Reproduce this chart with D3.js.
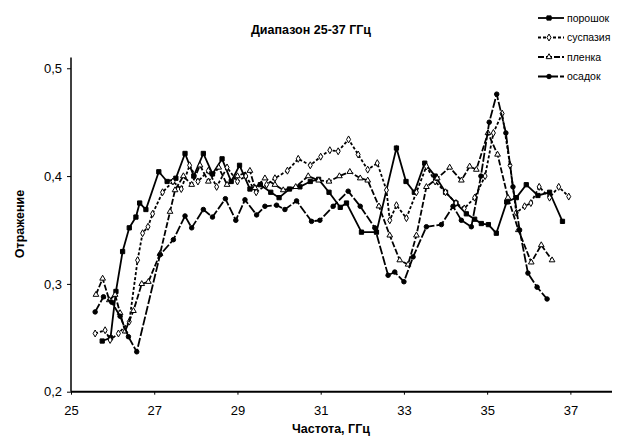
<!DOCTYPE html>
<html>
<head>
<meta charset="utf-8">
<script src="https://cdn.jsdelivr.net/npm/d3@7.9.0/dist/d3.min.js"></script>
<style>
  body { margin: 0; background: #fff; }
  svg { font-family: "Liberation Sans", Arial, sans-serif; }
</style>
</head>
<body>
<svg id="chart" width="622" height="439"></svg>
<script>
// Reflection vs frequency
const seriesNames = ['порошок', 'суспазия', 'пленка', 'осадок'];

const poroshokF = [25.75, 25.95, 26.08, 26.24, 26.40, 26.56, 26.65, 26.80, 27.11, 27.31, 27.52, 27.74, 27.95, 28.18, 28.40, 28.63, 28.85, 29.05, 29.30, 29.55, 29.80, 30.00, 30.25, 30.50, 30.75, 30.95, 31.20, 31.47, 31.62, 31.98, 32.34, 32.82, 33.05, 33.25, 33.50, 33.75, 34.00, 34.25, 34.50, 34.70, 34.86, 35.03, 35.22, 35.47, 35.70, 35.94, 36.22, 36.50, 36.81];
const poroshokV = [0.247, 0.250, 0.293, 0.330, 0.352, 0.362, 0.375, 0.369, 0.404, 0.395, 0.398, 0.421, 0.400, 0.421, 0.402, 0.416, 0.395, 0.410, 0.388, 0.392, 0.385, 0.380, 0.388, 0.390, 0.395, 0.397, 0.385, 0.371, 0.375, 0.348, 0.348, 0.426, 0.395, 0.385, 0.412, 0.400, 0.385, 0.375, 0.365, 0.360, 0.356, 0.355, 0.347, 0.376, 0.380, 0.392, 0.382, 0.385, 0.358];

const suspF = [25.58, 25.82, 25.94, 26.14, 26.40, 26.60, 26.72, 26.85, 26.96, 27.20, 27.45, 27.65, 27.85, 28.05, 28.30, 28.50, 28.75, 29.00, 29.20, 29.45, 29.70, 29.90, 30.20, 30.46, 30.75, 31.00, 31.22, 31.42, 31.67, 31.90, 32.13, 32.36, 32.58, 32.66, 32.82, 33.06, 33.30, 33.54, 33.75, 34.00, 34.25, 34.45, 34.70, 34.95, 35.15, 35.36, 35.55, 35.70, 35.90, 36.05, 36.25, 36.50, 36.72, 36.96];
const suspV = [0.254, 0.257, 0.248, 0.254, 0.265, 0.322, 0.347, 0.353, 0.365, 0.385, 0.395, 0.388, 0.410, 0.395, 0.405, 0.390, 0.408, 0.395, 0.400, 0.385, 0.392, 0.398, 0.405, 0.416, 0.410, 0.418, 0.424, 0.423, 0.434, 0.420, 0.406, 0.412, 0.387, 0.359, 0.373, 0.361, 0.385, 0.409, 0.395, 0.385, 0.375, 0.370, 0.380, 0.400, 0.440, 0.458, 0.410, 0.366, 0.372, 0.375, 0.390, 0.380, 0.390, 0.381];

const plenkaF = [25.60, 25.76, 25.92, 26.06, 26.18, 26.30, 26.50, 26.70, 26.86, 27.14, 27.38, 27.50, 27.70, 27.90, 28.10, 28.30, 28.55, 28.75, 29.00, 29.30, 29.42, 29.66, 29.90, 30.10, 30.40, 30.70, 30.95, 31.20, 31.45, 31.70, 31.95, 32.13, 32.40, 32.66, 32.90, 33.10, 33.30, 33.54, 33.80, 34.10, 34.38, 34.58, 34.74, 35.02, 35.25, 35.50, 35.75, 36.06, 36.30, 36.56];
const plenkaV = [0.290, 0.305, 0.285, 0.290, 0.273, 0.256, 0.275, 0.300, 0.302, 0.328, 0.367, 0.387, 0.400, 0.392, 0.410, 0.395, 0.408, 0.392, 0.400, 0.405, 0.389, 0.398, 0.392, 0.387, 0.390, 0.400, 0.396, 0.395, 0.400, 0.404, 0.398, 0.396, 0.372, 0.345, 0.322, 0.318, 0.345, 0.390, 0.398, 0.408, 0.396, 0.409, 0.406, 0.440, 0.420, 0.380, 0.350, 0.320, 0.336, 0.322];

const osadokF = [25.58, 25.78, 25.98, 26.18, 26.38, 26.58, 27.14, 27.46, 27.74, 27.90, 28.18, 28.40, 28.71, 28.96, 29.18, 29.46, 29.66, 29.94, 30.14, 30.42, 30.78, 30.98, 31.30, 31.66, 31.95, 32.30, 32.62, 32.78, 33.00, 33.22, 33.54, 33.90, 34.18, 34.38, 34.62, 34.85, 35.05, 35.23, 35.45, 35.62, 35.78, 35.98, 36.20, 36.44];
const osadokV = [0.274, 0.288, 0.283, 0.270, 0.251, 0.237, 0.327, 0.341, 0.363, 0.352, 0.369, 0.362, 0.379, 0.359, 0.378, 0.364, 0.372, 0.373, 0.369, 0.377, 0.358, 0.359, 0.372, 0.386, 0.372, 0.352, 0.308, 0.311, 0.302, 0.325, 0.353, 0.355, 0.372, 0.359, 0.353, 0.400, 0.450, 0.476, 0.440, 0.390, 0.350, 0.310, 0.297, 0.286];

const xTicks = [25, 27, 29, 31, 33, 35, 37];
const yTicks = [0.2, 0.3, 0.4, 0.5];

const series = [
  { name: seriesNames[0], f: poroshokF, v: poroshokV, symbol: d3.symbolSquare, filled: true, dash: null, size: 18 },
  { name: seriesNames[1], f: suspF, v: suspV, symbol: d3.symbolDiamond, filled: false, dash: '3,2', size: 14 },
  { name: seriesNames[2], f: plenkaF, v: plenkaV, symbol: d3.symbolTriangle, filled: false, dash: '6,2', size: 14 },
  { name: seriesNames[3], f: osadokF, v: osadokV, symbol: d3.symbolCircle, filled: true, dash: '9,2', size: 16 }
];

const svg = d3.select('#chart');

const x = d3.scaleLinear().domain([25, 38]).range([71, 612]);
const y = d3.scaleLinear().domain([0.2, 0.51]).range([391.7, 57.5]);

// Title
svg.append('text')
  .attr('x', 311).attr('y', 34)
  .attr('text-anchor', 'middle')
  .attr('font-size', 12.5).attr('font-weight', 'bold')
  .text('Диапазон 25-37 ГГц');

// Axes
const fmt = d => d3.format('.1f')(d).replace('.', ',');
const yAxis = svg.append('g')
  .attr('transform', 'translate(71,0)')
  .call(d3.axisLeft(y).tickValues(yTicks).tickSize(4).tickFormat(fmt));
yAxis.select('.domain').attr('d', `M0,${y(0.51)}V${y(0.2)}`).attr('stroke-width', 1.5);
yAxis.selectAll('text').attr('font-size', 13).attr('x', -9);

const xAxis = svg.append('g')
  .attr('transform', `translate(0,${y(0.2)})`)
  .call(d3.axisBottom(x).tickValues(xTicks).tickSize(3).tickFormat(d3.format('d')));
xAxis.select('.domain').attr('d', `M${x(25)},0H${x(38)}`).attr('stroke-width', 2);
xAxis.selectAll('text').attr('font-size', 13).attr('dy', '1.3em');

svg.append('text')
  .attr('x', 331).attr('y', 433)
  .attr('text-anchor', 'middle')
  .attr('font-size', 12.5).attr('font-weight', 'bold')
  .text('Частота, ГГц');

svg.append('text')
  .attr('transform', 'translate(24,224) rotate(-90)')
  .attr('text-anchor', 'middle')
  .attr('font-size', 12.5).attr('font-weight', 'bold')
  .text('Отражение');

// Lines and markers
const line = d3.line().x(d => x(d[0])).y(d => y(d[1]));

series.forEach(s => {
  const pts = s.f.map((f, i) => [f, s.v[i]]);
  svg.append('path')
    .datum(pts)
    .attr('d', line)
    .attr('fill', 'none')
    .attr('stroke', '#000')
    .attr('stroke-width', 1.8)
    .attr('stroke-dasharray', s.dash);

  svg.append('g').selectAll('path')
    .data(pts)
    .join('path')
    .attr('transform', d => `translate(${x(d[0])},${y(d[1])})`)
    .attr('d', d3.symbol().type(s.symbol).size(s.size))
    .attr('fill', s.filled ? '#000' : '#fff')
    .attr('stroke', '#000')
    .attr('stroke-width', 1);
});

// Legend
series.forEach((s, i) => {
  const ly = 18 + i * 19.5;
  const g = svg.append('g');
  g.append('line')
    .attr('x1', 538).attr('x2', 564)
    .attr('y1', ly).attr('y2', ly)
    .attr('stroke', '#000').attr('stroke-width', 1.8)
    .attr('stroke-dasharray', s.dash);
  g.append('path')
    .attr('transform', `translate(549,${ly})`)
    .attr('d', d3.symbol().type(s.symbol).size(s.size))
    .attr('fill', s.filled ? '#000' : '#fff')
    .attr('stroke', '#000');
  g.append('text')
    .attr('x', 567).attr('y', ly + 3.5)
    .attr('font-size', 10.5)
    .text(s.name);
});
</script>
</body>
</html>
